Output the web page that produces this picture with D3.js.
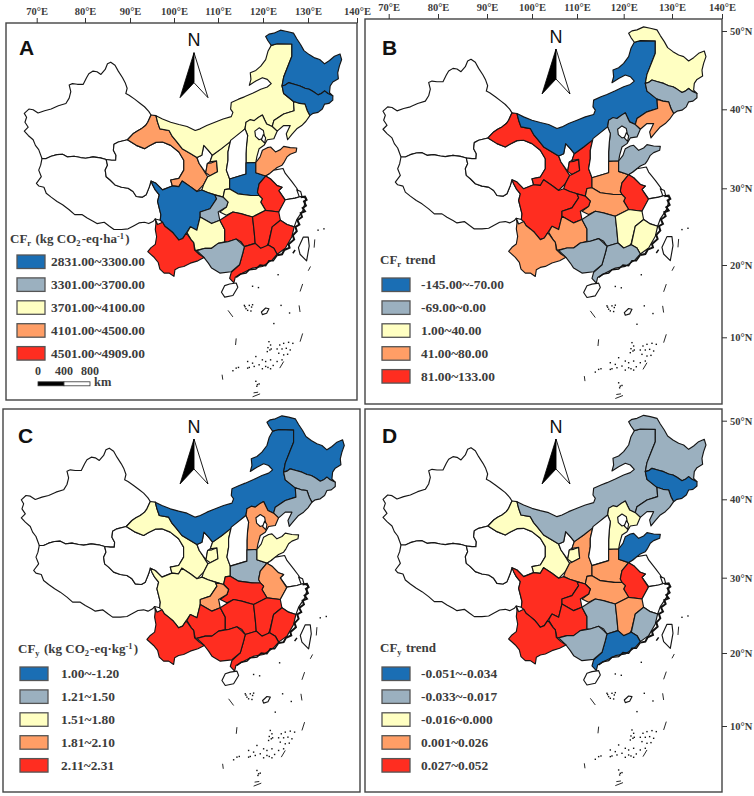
<!DOCTYPE html>
<html>
<head>
<meta charset="utf-8">
<script src="https://d3js.org/d3.v7.min.js"></script>
<style>
html, body { margin: 0; padding: 0; background: #fff; }
svg { display: block; }
</style>
</head>
<body>
<div id="chart"></div>
<script>
//-------------------------------------
// data
//-------------------------------------
var lonTicks = [70, 80, 90, 100, 110, 120, 130, 140];
var latTicks = [50, 40, 30, 20, 10];

// class of each province in the four panels (provinces not listed have no data)
var provinceNames = ["Gansu", "Ningxia", "Shaanxi", "InnerMongolia", "Heilongjiang", "Jilin", "Liaoning", "Hebei", "Shandong", "Henan", "Anhui", "Hubei", "Sichuan", "Chongqing", "Guizhou", "Hunan", "Jiangxi", "Fujian", "Guangdong", "Guangxi", "Yunnan"];
var classesA = [3, 3, 2, 2, 0, 0, 2, 2, 3, 0, 4, 2, 0, 1, 2, 4, 4, 4, 4, 1, 4];
var classesB = [4, 4, 4, 0, 2, 1, 3, 1, 1, 3, 4, 3, 4, 4, 3, 1, 2, 2, 1, 1, 3];
var classesC = [2, 2, 2, 0, 0, 1, 1, 3, 2, 1, 3, 4, 2, 3, 4, 4, 4, 4, 4, 4, 4];
var classesD = [2, 2, 3, 1, 1, 0, 1, 2, 0, 3, 4, 3, 4, 4, 4, 1, 3, 1, 0, 1, 4];

var legendA = ["2831.00~3300.00", "3301.00~3700.00", "3701.00~4100.00", "4101.00~4500.00", "4501.00~4909.00"];
var legendB = ["-145.00~-70.00", "-69.00~0.00", "1.00~40.00", "41.00~80.00", "81.00~133.00"];
var legendC = ["1.00~-1.20", "1.21~1.50", "1.51~1.80", "1.81~2.10", "2.11~2.31"];
var legendD = ["-0.051~-0.034", "-0.033~-0.017", "-0.016~0.000", "0.001~0.026", "0.027~0.052"];

var classColors = ["#1a6eb4", "#9bb0bf", "#ffffc2", "#ff9e66", "#ff2d20"];
var scaleKm = [0, 400, 800];

// outlines, in trace-grid units
var outlines = {
	Xinjiang: [[405,303],[398,292],[385,278],[372,268],[355,255],[338,243],[328,238],[332,222],[326,205],[318,190],[305,170],[295,152],[282,143],[272,148],[265,165],[252,180],[240,172],[228,170],[215,178],[208,190],[198,210],[180,210],[165,208],[155,212],[160,232],[155,252],[145,268],[122,275],[100,285],[80,290],[60,297],[45,287],[32,285],[18,298],[25,310],[20,325],[30,340],[18,352],[30,365],[45,378],[52,395],[62,408],[72,435],[85,435],[100,428],[118,423],[135,422],[150,430],[170,428],[190,432],[205,434],[228,430],[250,433],[268,438],[285,440],[297,440],[298,425],[290,410],[292,392],[305,385],[333,378],[350,360],[362,352],[375,345],[388,335],[395,325]],
	Tibet: [[72,435],[68,455],[62,470],[70,490],[55,510],[62,518],[78,522],[85,540],[100,552],[118,565],[135,575],[155,590],[172,605],[195,605],[210,615],[228,625],[240,632],[262,628],[278,640],[292,650],[315,650],[335,648],[350,640],[368,630],[385,628],[398,632],[412,625],[418,618],[433,622],[435,605],[430,585],[425,565],[430,545],[418,530],[410,515],[405,503],[400,520],[390,545],[378,552],[360,550],[350,535],[335,525],[315,522],[295,515],[280,500],[268,490],[265,470],[272,455],[268,438],[250,433],[228,430],[205,434],[190,432],[170,428],[150,430],[135,422],[118,423],[100,428],[85,435]],
	Qinghai: [[268,438],[285,440],[297,440],[298,425],[290,410],[292,392],[305,385],[333,378],[360,395],[385,405],[400,396],[420,386],[440,385],[465,395],[490,415],[505,440],[505,470],[490,495],[465,500],[470,518],[440,530],[420,510],[405,503],[400,520],[390,545],[378,552],[360,550],[350,535],[335,525],[315,522],[295,515],[280,500],[268,490],[265,470],[272,455]],
	Gansu: [[405,303],[420,305],[425,325],[432,345],[460,350],[470,368],[482,382],[500,405],[525,420],[545,432],[552,450],[562,465],[570,478],[578,490],[565,515],[545,535],[525,520],[500,503],[490,520],[470,518],[465,500],[490,495],[505,470],[505,440],[490,415],[465,395],[440,385],[420,386],[400,396],[385,405],[360,395],[333,378],[350,360],[362,352],[375,345],[388,335],[395,325]],
	NingxiaGap: [[545,432],[560,425],[566,395],[580,410],[592,425],[585,445],[577,450],[572,478],[552,450]],
	Ningxia: [[572,478],[577,450],[590,448],[605,442],[608,475],[585,487]],
	Shaanxi: [[648,380],[640,415],[640,440],[635,470],[645,497],[645,527],[630,529],[625,552],[600,545],[578,538],[560,530],[565,515],[578,490],[585,487],[608,475],[605,442],[585,445],[592,425],[620,405]],
	InnerMongolia: [[420,305],[440,315],[465,325],[490,332],[515,338],[540,350],[555,345],[575,335],[600,325],[625,315],[650,308],[655,295],[648,285],[650,265],[672,255],[690,248],[715,237],[740,225],[760,218],[772,208],[760,195],[745,190],[725,200],[705,213],[710,195],[708,175],[725,168],[740,155],[755,135],[762,110],[772,92],[790,87],[835,88],[835,125],[825,150],[810,188],[805,215],[810,238],[825,250],[840,262],[842,290],[810,300],[780,320],[775,338],[758,330],[745,303],[720,320],[695,325],[692,345],[650,382],[620,405],[592,425],[580,410],[566,395],[560,425],[545,432],[525,420],[500,405],[482,382],[470,368],[460,350],[432,345],[425,325]],
	Heilongjiang: [[755,65],[765,58],[780,55],[800,46],[820,50],[840,55],[850,72],[862,90],[872,108],[888,120],[905,130],[920,135],[935,148],[950,138],[965,125],[982,118],[987,135],[980,155],[975,175],[977,193],[960,203],[952,215],[950,235],[960,245],[945,238],[935,230],[925,238],[915,242],[900,232],[888,225],[875,222],[860,215],[842,210],[825,205],[815,212],[805,215],[810,188],[825,150],[835,125],[835,88],[790,87],[772,92],[762,78]],
	Jilin: [[805,215],[815,212],[825,205],[842,210],[860,215],[875,222],[888,225],[900,232],[915,242],[925,238],[935,230],[945,238],[960,245],[960,258],[948,268],[935,270],[928,285],[915,295],[900,298],[890,305],[882,290],[875,270],[858,268],[840,262],[825,250],[810,238]],
	Liaoning: [[780,320],[810,300],[842,290],[840,262],[858,268],[875,270],[882,290],[890,305],[878,322],[865,335],[850,345],[835,362],[822,378],[818,360],[830,335],[810,335],[790,352],[775,338]],
	Hebei: [[692,345],[695,325],[708,317],[720,320],[733,310],[745,303],[752,318],[758,330],[775,338],[790,352],[780,375],[760,378],[750,395],[735,405],[728,430],[725,447],[695,448],[695,420],[697,390],[700,365]],
	Beijing: [[722,352],[735,342],[748,350],[752,372],[735,378],[724,368]],
	Tianjin: [[748,362],[755,372],[752,388],[742,378]],
	Shanxi: [[692,345],[700,365],[697,390],[695,420],[695,448],[695,482],[645,497],[635,470],[640,440],[640,415],[648,380]],
	Henan: [[645,497],[695,482],[695,448],[725,447],[725,478],[755,488],[735,512],[730,537],[740,552],[710,547],[670,542],[645,527]],
	Shandong: [[725,478],[725,447],[738,430],[745,410],[760,402],[770,400],[785,415],[800,408],[810,398],[830,402],[850,403],[848,415],[830,422],[820,430],[812,445],[805,455],[790,462],[780,470],[768,480],[755,488]],
	Jiangsu: [[755,488],[768,480],[780,470],[808,465],[815,480],[835,505],[850,525],[862,550],[845,555],[815,560],[795,532],[805,522],[790,517],[770,497]],
	Shanghai: [[850,530],[862,535],[866,550],[858,552]],
	Anhui: [[735,512],[755,488],[770,497],[790,517],[805,522],[795,532],[815,562],[795,597],[755,592],[740,567],[745,557],[735,547],[730,537]],
	Zhejiang: [[815,560],[845,555],[862,550],[878,555],[870,590],[850,620],[842,642],[820,635],[800,622],[785,597],[795,597]],
	Hubei: [[630,529],[645,527],[670,542],[710,547],[735,547],[745,557],[740,567],[755,592],[715,612],[690,605],[655,597],[635,607],[615,597],[635,582],[640,567],[625,552]],
	Sichuan: [[405,503],[420,510],[440,530],[470,518],[490,520],[500,503],[525,520],[545,535],[560,530],[578,538],[600,545],[605,557],[585,587],[555,597],[555,612],[545,652],[525,642],[515,657],[502,677],[490,682],[482,672],[472,660],[460,650],[447,640],[440,628],[433,622],[435,605],[430,585],[425,565],[430,545],[418,530],[410,515]],
	Chongqing: [[600,545],[625,552],[640,567],[635,582],[610,597],[615,622],[590,632],[555,612],[555,597],[585,587],[605,557]],
	Guizhou: [[515,660],[525,642],[545,652],[555,612],[590,632],[615,622],[630,650],[630,687],[610,692],[590,707],[570,707],[540,714],[535,690],[528,682]],
	Hunan: [[630,612],[655,597],[680,602],[695,607],[715,612],[720,657],[723,692],[690,702],[680,687],[665,679],[640,687],[630,687],[630,650],[615,622]],
	Jiangxi: [[715,612],[755,592],[795,597],[800,622],[775,642],[763,692],[755,707],[740,707],[723,692],[720,657]],
	Fujian: [[800,622],[820,635],[842,642],[835,672],[815,707],[790,725],[780,707],[763,697],[775,642]],
	Guangdong: [[690,702],[723,692],[740,707],[763,697],[780,707],[790,725],[775,742],[745,762],[715,767],[685,782],[662,795],[658,812],[645,798],[650,780],[675,757],[685,722]],
	Guangxi: [[545,714],[570,707],[590,707],[610,692],[640,687],[665,679],[680,692],[690,702],[685,722],[675,757],[650,778],[615,782],[590,767],[580,752],[567,735]],
	Yunnan: [[418,618],[425,635],[440,628],[447,640],[460,650],[472,660],[482,672],[490,682],[502,677],[512,662],[518,668],[528,682],[535,690],[538,712],[552,725],[567,735],[548,745],[525,752],[505,762],[490,765],[478,772],[475,792],[460,782],[445,782],[432,770],[427,750],[415,735],[395,717],[405,705],[418,695],[422,672],[418,650],[420,632]],
	Hainan: [[645,815],[665,812],[670,825],[655,850],[630,855],[620,840],[630,820]],
	Taiwan: [[870,673],[885,673],[888,700],[880,745],[860,725],[855,705]],
	Huangyan: [[742,900],[755,888],[765,890],[758,904],[745,908]]
};

var coastThick = [[[862,552],[875,550],[880,560],[872,565],[878,578],[868,585],[875,595],[862,600],[866,612],[852,622],[858,635],[846,642],[850,655],[838,668],[842,680],[825,695],[828,705],[812,712],[805,725],[790,728]]];
var coastThin = [[[790,728],[778,745],[765,745],[755,760],[738,758],[725,770],[705,772],[695,782],[678,785],[665,795]], [[845,712],[838,722]]];

var dashes = [[[905,680],[903,705]], [[892,762],[885,775]], [[868,815],[860,838]], [[857,880],[860,900]], [[868,965],[860,990]], [[810,1050],[798,1070]], [[665,980],[663,1000]], [[640,895],[655,915]], [[622,1090],[624,1105]], [[715,1157],[738,1148]], [[718,1145],[732,1143]]];

var islets = [[915,652],[933,648],[793,787],[715,822],[733,826],[802,880],[828,903],[780,935],[690,880],[695,890],[705,880],[712,885],[700,895],[715,878],[710,897],[692,884],[765,990],[770,1000],[762,1008],[768,1015],[760,1020],[772,1012],[798,1000],[810,995],[825,992],[838,995],[790,1012],[805,1012],[818,1010],[830,1015],[795,1025],[810,1030],[822,1028],[725,1035],[745,1045],[700,1050],[715,1055],[735,1060],[755,1050],[770,1045],[790,1050],[805,1045],[700,1070],[720,1065],[745,1072],[762,1068],[778,1062],[755,1065],[770,1072],[655,1078],[665,1070],[672,1068],[705,1068],[725,1110],[730,1120],[735,1118],[728,1125]];

//-------------------------------------
// layout of the four panels
//-------------------------------------
var panels = [
	{ letter: "A", classes: classesA, legend: legendA, title: ["CF", "r", " (kg CO", "2", "-eq·ha", "-1", ")"],
		frame: [6, 23, 357, 400], mapX: [18.4, 0.3275], mapY: [15, 0.33], north: [194, 52.7],
		letterPos: [19, 55], titlePos: [10, 243], swatchX: 17, swatchY: 255, textX: 51 },
	{ letter: "B", classes: classesB, legend: legendB, title: ["CF", "r", " trend"],
		frame: [365, 19, 722, 404], mapX: [377, 0.3333], mapY: [11.5, 0.3345], north: [556, 49],
		letterPos: [382, 55], titlePos: [380, 264], swatchX: 382, swatchY: 278, textX: 421 },
	{ letter: "C", classes: classesC, legend: legendC, title: ["CF", "y", " (kg CO", "2", "-eq·kg", "-1", ")"],
		frame: [3, 409, 360, 792], mapX: [15.3, 0.3333], mapY: [400.5, 0.3333], north: [194, 439],
		letterPos: [18, 443], titlePos: [18, 653], swatchX: 20, swatchY: 667, textX: 61 },
	{ letter: "D", classes: classesD, legend: legendD, title: ["CF", "y", " trend"],
		frame: [365, 409, 722, 792], mapX: [377, 0.3333], mapY: [400, 0.3333], north: [556, 439],
		letterPos: [382, 443], titlePos: [380, 652], swatchX: 382, swatchY: 667, textX: 421 }
];

var serif = "'Liberation Serif', serif";
var sans = "'Liberation Sans', sans-serif";
var ink = "#3c3c3c";

var svg = d3.select("#chart")
	.append("svg")
	.attr("width", 754)
	.attr("height", 796);

var color = d3.scaleOrdinal().domain(d3.range(5)).range(classColors);

//-------------------------------------
// one panel
//-------------------------------------
function drawPanel(p) {
	var g = svg.append("g");
	var sx = function(u) { return p.mapX[0] + p.mapX[1] * u; };
	var sy = function(v) { return p.mapY[0] + p.mapY[1] * v; };

	var path = d3.geoPath(d3.geoTransform({
		point: function(x, y) { this.stream.point(sx(x), sy(y)); }
	}));

	g.append("rect")
		.attr("x", p.frame[0])
		.attr("y", p.frame[1])
		.attr("width", p.frame[2] - p.frame[0])
		.attr("height", p.frame[3] - p.frame[1])
		.attr("fill", "none")
		.attr("stroke", "#444")
		.attr("stroke-width", 1.4);

	var names = Object.keys(outlines);
	g.selectAll("path.prov")
		.data(names)
		.enter()
		.append("path")
		.attr("class", "prov")
		.attr("d", function(d) {
			return path({ type: "Polygon", coordinates: [outlines[d].concat([outlines[d][0]])] });
		})
		.attr("fill", function(d) {
			var i = provinceNames.indexOf(d);
			return i < 0 ? "#fff" : color(p.classes[i]);
		})
		.attr("stroke", "#161616")
		.attr("stroke-width", 1.15)
		.attr("stroke-linejoin", "round");

	function lines(list, width) {
		g.append("path")
			.attr("d", path({ type: "MultiLineString", coordinates: list }))
			.attr("fill", "none")
			.attr("stroke", "#111")
			.attr("stroke-width", width);
	}
	lines(coastThick, 2);
	lines(coastThin, 1.5);
	lines(dashes, 0.9);

	g.selectAll("rect.islet")
		.data(islets)
		.enter()
		.append("rect")
		.attr("class", "islet")
		.attr("x", function(d) { return sx(d[0]) - 0.7; })
		.attr("y", function(d) { return sy(d[1]) - 0.7; })
		.attr("width", 1.4)
		.attr("height", 1.4)
		.attr("fill", "#111");

	// north arrow
	var nx = p.north[0], ny = p.north[1];
	g.append("text")
		.attr("x", nx)
		.attr("y", ny - 6.5)
		.attr("text-anchor", "middle")
		.style("font", "18px " + sans)
		.attr("fill", "#111")
		.text("N");
	g.append("path")
		.attr("d", "M" + nx + "," + ny + "L" + (nx - 14) + "," + (ny + 45) + "L" + nx + "," + (ny + 30) + "Z")
		.attr("fill", "#000")
		.attr("stroke", "#000")
		.attr("stroke-width", 0.8);
	g.append("path")
		.attr("d", "M" + nx + "," + ny + "L" + (nx + 14) + "," + (ny + 45) + "L" + nx + "," + (ny + 30) + "Z")
		.attr("fill", "#fff")
		.attr("stroke", "#000")
		.attr("stroke-width", 0.9);

	// panel letter
	g.append("text")
		.attr("x", p.letterPos[0])
		.attr("y", p.letterPos[1])
		.style("font", "bold 21px " + sans)
		.attr("fill", "#111")
		.text(p.letter);

	// legend
	var title = g.append("text")
		.attr("x", p.titlePos[0])
		.attr("y", p.titlePos[1])
		.style("font", "bold 13px " + serif)
		.attr("fill", ink);
	p.title.forEach(function(t) {
		var sub = t === "r" || t === "y" || t === "2";
		var sup = t === "-1";
		title.append("tspan").attr("font-size", sub || sup ? 8.5 : 13)
			.attr("dy", sub ? 3 : sup ? -4 : 0)
			.text(t);
		if (sub || sup) {
			title.append("tspan").attr("dy", sub ? -3 : 4).attr("font-size", 13).text("\u200a");
		}
	});

	var rows = g.selectAll("g.row")
		.data(p.legend)
		.enter()
		.append("g")
		.attr("class", "row")
		.attr("transform", function(d, i) { return "translate(0," + (p.swatchY + i * 22.9) + ")"; });
	rows.append("rect")
		.attr("x", p.swatchX)
		.attr("width", 28)
		.attr("height", 13.5)
		.attr("fill", function(d, i) { return color(i); })
		.attr("stroke", "#555")
		.attr("stroke-width", 1.3);
	rows.append("text")
		.attr("x", p.textX)
		.attr("y", 11)
		.style("font", "bold 13.4px " + serif)
		.attr("fill", ink)
		.text(function(d) { return d; });
}

panels.forEach(drawPanel);

//-------------------------------------
// graticule labels
//-------------------------------------
function lonAxis(range, y) {
	var x = d3.scaleLinear().domain(lonTicks).range(range);
	var g = svg.append("g")
		.attr("transform", "translate(0," + y + ")")
		.call(d3.axisTop(x).tickValues(lonTicks).tickSize(5).tickSizeOuter(0).tickFormat(function(d) { return d + "°E"; }));
	styleAxis(g);
}

function latAxis(range, xPos) {
	var y = d3.scaleLinear().domain(latTicks).range(range);
	var g = svg.append("g")
		.attr("transform", "translate(" + xPos + ",0)")
		.call(d3.axisRight(y).tickValues(latTicks).tickSize(5).tickSizeOuter(0).tickFormat(function(d) { return d + "°N"; }));
	styleAxis(g);
}

function styleAxis(g) {
	g.select(".domain").remove();
	g.selectAll("line").attr("stroke", "#333").attr("stroke-width", 1);
	g.selectAll("text")
		.style("font", "bold 10.5px " + serif)
		.attr("fill", ink);
}

lonAxis([36.7, 85, 130, 174, 218, 263, 308, 357], 23);
lonAxis([388.7, 438, 487, 532, 577, 623.7, 672, 722], 19);
latAxis([31, 109.3, 188.3, 265, 337.3], 722);
latAxis([420.7, 499.3, 577.7, 653, 726], 722);

//-------------------------------------
// scale bar in panel A
//-------------------------------------
var km = d3.scaleLinear().domain([0, 800]).range([38, 90]);
var bar = svg.append("g");
bar.selectAll("rect")
	.data(d3.pairs(scaleKm))
	.enter()
	.append("rect")
	.attr("x", function(d) { return km(d[0]); })
	.attr("y", 381.8)
	.attr("width", function(d) { return km(d[1]) - km(d[0]); })
	.attr("height", 4)
	.attr("fill", function(d, i) { return i ? "#fff" : "#000"; })
	.attr("stroke", "#333")
	.attr("stroke-width", 0.8);
bar.selectAll("text")
	.data(scaleKm)
	.enter()
	.append("text")
	.attr("x", function(d) { return km(d); })
	.attr("y", 375)
	.attr("text-anchor", "middle")
	.style("font", "bold 12px " + serif)
	.attr("fill", ink)
	.text(function(d) { return d; });
bar.append("text")
	.attr("x", 94)
	.attr("y", 386)
	.style("font", "bold 12.5px " + serif)
	.attr("fill", ink)
	.text("km");
</script>
</body>
</html>
